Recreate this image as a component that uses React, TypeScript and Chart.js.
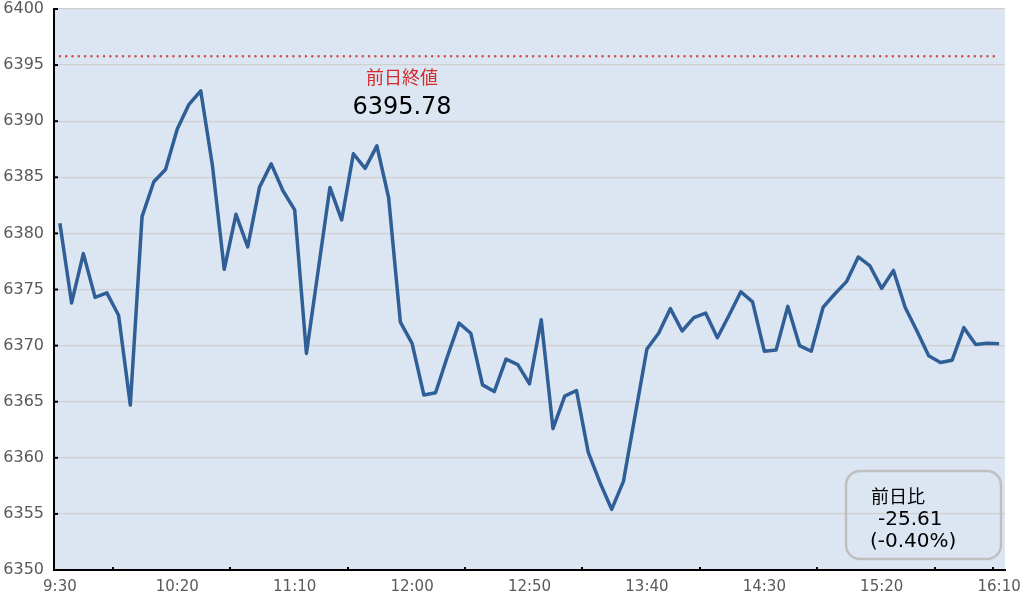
import React, { useEffect, useRef } from "react";
import { Chart, registerables } from "chart.js";

Chart.register(...registerables);

const times = [
  "9:30", "9:35", "9:40", "9:45", "9:50", "9:55",
  "10:00", "10:05", "10:10", "10:15", "10:20", "10:25", "10:30", "10:35", "10:40", "10:45", "10:50", "10:55",
  "11:00", "11:05", "11:10", "11:15", "11:20", "11:25", "11:30", "11:35", "11:40", "11:45", "11:50", "11:55",
  "12:00", "12:05", "12:10", "12:15", "12:20", "12:25", "12:30", "12:35", "12:40", "12:45", "12:50", "12:55",
  "13:00", "13:05", "13:10", "13:15", "13:20", "13:25", "13:30", "13:35", "13:40", "13:45", "13:50", "13:55",
  "14:00", "14:05", "14:10", "14:15", "14:20", "14:25", "14:30", "14:35", "14:40", "14:45", "14:50", "14:55",
  "15:00", "15:05", "15:10", "15:15", "15:20", "15:25", "15:30", "15:35", "15:40", "15:45", "15:50", "15:55",
  "16:00", "16:05", "16:10",
];

const xTickLabels = ["9:30", "10:20", "11:10", "12:00", "12:50", "13:40", "14:30", "15:20", "16:10"];

const prices = [
  6380.9, 6373.8, 6378.2, 6374.3, 6374.7, 6372.7, 6364.7, 6381.5, 6384.6, 6385.7,
  6389.3, 6391.5, 6392.7, 6386.0, 6376.8, 6381.7, 6378.8, 6384.1, 6386.2, 6383.8,
  6382.1, 6369.3, 6376.7, 6384.1, 6381.2, 6387.1, 6385.8, 6387.8, 6383.2, 6372.1,
  6370.2, 6365.6, 6365.8, 6369.0, 6372.0, 6371.1, 6366.5, 6365.9, 6368.8, 6368.3,
  6366.6, 6372.3, 6362.6, 6365.5, 6366.0, 6360.5, 6357.8, 6355.4, 6357.9, 6363.8,
  6369.7, 6371.1, 6373.3, 6371.3, 6372.5, 6372.9, 6370.7, 6372.7, 6374.8, 6373.9,
  6369.5, 6369.6, 6373.5, 6370.0, 6369.5, 6373.4, 6374.6, 6375.7, 6377.9, 6377.1,
  6375.1, 6376.7, 6373.4, 6371.3, 6369.1, 6368.5, 6368.7, 6371.6, 6370.1, 6370.2,
  6370.17,
];

const prevClose = 6395.78;
const prevCloseLabel = "前日終値";
const prevCloseText = "6395.78";
const changeTitle = "前日比";
const changeValue = "-25.61";
const changePct = "(-0.40%)";

const yMin = 6350;
const yMax = 6400;
const yStep = 5;

const FONT = "'DejaVu Sans', 'Noto Sans CJK JP', sans-serif";

const decorPlugin = {
  id: "decor",
  beforeDraw(chart: any) {
    const { ctx, chartArea: a } = chart;
    ctx.save();
    ctx.fillStyle = "#DCE6F2";
    ctx.fillRect(a.left, a.top, a.right - a.left, a.bottom - a.top);
    ctx.restore();
  },
  afterDraw(chart: any) {
    const { ctx, chartArea: a, scales } = chart;
    const xs = scales.x;
    const ys = scales.y;
    ctx.save();
    ctx.strokeStyle = "#000";
    ctx.lineWidth = 2;
    const tickIdx = [4, 14, 24, 34, 44, 54, 64, 74, 79];
    for (const i of tickIdx) {
      const px = Math.round((xs.getPixelForValue(i) + xs.getPixelForValue(i + 1)) / 2);
      ctx.beginPath();
      ctx.moveTo(px, a.bottom);
      ctx.lineTo(px, a.bottom - 3);
      ctx.stroke();
    }
    for (let v = yMin; v <= yMax; v += yStep) {
      const py = ys.getPixelForValue(v);
      ctx.beginPath();
      ctx.moveTo(a.left, py);
      ctx.lineTo(a.left + 4, py);
      ctx.stroke();
    }

    ctx.textAlign = "center";
    ctx.textBaseline = "middle";
    ctx.fillStyle = "#D42A2A";
    ctx.font = `18px ${FONT}`;
    ctx.fillText(prevCloseLabel, 402, 79);
    ctx.fillStyle = "#000";
    ctx.font = `24px ${FONT}`;
    ctx.fillText(prevCloseText, 402, 108);

    ctx.strokeStyle = "#BFBFBF";
    ctx.lineWidth = 2.5;
    ctx.beginPath();
    ctx.roundRect(846, 471, 155, 88, 14);
    ctx.stroke();
    ctx.fillStyle = "#000";
    ctx.textAlign = "left";
    ctx.font = `18px ${FONT}`;
    ctx.fillText(changeTitle, 871, 498);
    ctx.font = `20px ${FONT}`;
    ctx.fillText(changeValue, 878, 520);
    ctx.fillText(changePct, 870, 542);
    ctx.restore();
  },
};

export default function App() {
  const canvasRef = useRef<HTMLCanvasElement | null>(null);

  useEffect(() => {
    document.body.style.margin = "0";
    const canvas = canvasRef.current;
    if (!canvas) return;
    const chart = new Chart(canvas, {
      type: "line",
      data: {
        labels: times,
        datasets: [
          {
            data: prices,
            borderColor: "#2F5F96",
            borderWidth: 3.5,
            pointRadius: 0,
            tension: 0,
            borderJoinStyle: "round",
            order: 1,
          },
          {
            data: times.map(() => prevClose),
            borderColor: "#D04A4A",
            borderWidth: 2.5,
            borderDash: [0.01, 6.3],
            borderCapStyle: "round",
            pointRadius: 0,
            tension: 0,
            order: 2,
          },
        ],
      },
      options: {
        responsive: false,
        animation: false,
        layout: { padding: { top: 0, right: 25, left: 0, bottom: 0 } },
        plugins: { legend: { display: false }, tooltip: { enabled: false } },
        scales: {
          x: {
            type: "category",
            offset: true,
            grid: { display: false, drawTicks: false },
            border: { display: true, color: "#000", width: 2 },
            ticks: {
              autoSkip: false,
              maxRotation: 0,
              minRotation: 0,
              padding: 8,
              color: "#595959",
              font: { size: 15, family: FONT },
              callback: (_v: any, i: number) => (xTickLabels.includes(times[i]) ? times[i] : ""),
            },
            afterFit: (s: any) => {
              s.height = 25;
            },
          },
          y: {
            min: yMin,
            max: yMax,
            ticks: {
              stepSize: yStep,
              padding: 10,
              color: "#595959",
              font: { size: 16, family: FONT },
              callback: (v: any) => String(v),
            },
            grid: { color: "#CFCFCF", lineWidth: 1.3, drawTicks: false },
            border: { display: true, color: "#000", width: 2 },
            afterFit: (s: any) => {
              s.width = 54;
              s.paddingTop = 9;
              s.paddingBottom = 0;
            },
          },
        },
      },
      plugins: [decorPlugin],
    } as any);
    return () => chart.destroy();
  }, []);

  return <canvas ref={canvasRef} width={1030} height={595} style={{ display: "block" }} />;
}
